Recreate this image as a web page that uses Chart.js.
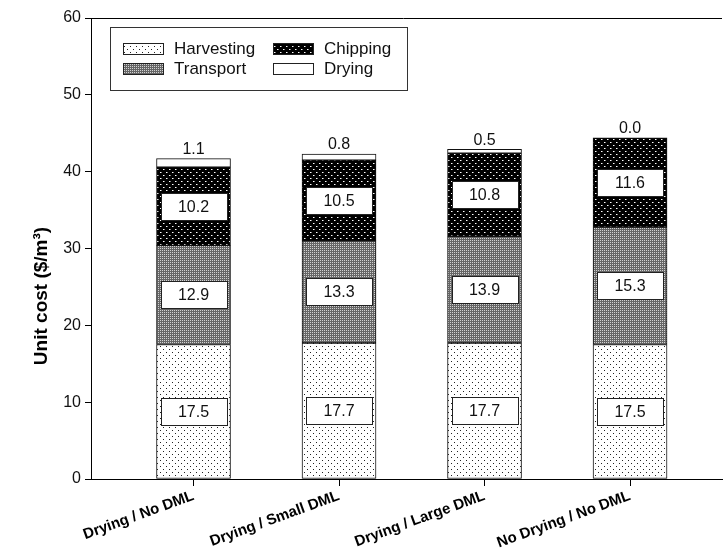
<!DOCTYPE html>
<html>
<head>
<meta charset="utf-8">
<script src="https://cdn.jsdelivr.net/npm/chart.js@4.4.0/dist/chart.umd.min.js"></script>
<style>
  html, body { margin: 0; padding: 0; background: #fff; }
</style>
</head>
<body>
<canvas id="costChart" width="723" height="550"></canvas>
<script>
// Scenarios on the x axis
const scenarios = ['Drying / No DML', 'Drying / Small DML', 'Drying / Large DML', 'No Drying / No DML'];

// Unit cost components ($/m3), stacked bottom to top
const harvesting = [17.5, 17.7, 17.7, 17.5];
const transport = [12.9, 13.3, 13.9, 15.3];
const chipping = [10.2, 10.5, 10.8, 11.6];
const drying = [1.1, 0.8, 0.5, 0.0];

const yMin = 0;
const yMax = 60;
const yStep = 10;

const FONT = '"Liberation Sans", Arial, sans-serif';

// Small tiled fills that mimic the print hatching
function makePattern(size, bg, dots) {
    const c = document.createElement('canvas');
    c.width = size;
    c.height = size;
    const g = c.getContext('2d');
    g.fillStyle = bg;
    g.fillRect(0, 0, size, size);
    dots.forEach(([x, y, w, col]) => {
        g.fillStyle = col;
        g.fillRect(x, y, w, w);
    });
    return g.createPattern(c, 'repeat');
}

const harvestFill = makePattern(6, '#ffffff', [[1, 1, 1, '#222'], [4, 4, 1, '#222']]);
const transportFill = makePattern(2, '#666666', [[0, 0, 1, '#d2d2d2']]);
const chippingFill = makePattern(6, '#000000', [
    [1, 1, 1, '#ffffff'], [2, 1, 1, '#808080'],
    [4, 4, 1, '#ffffff'], [5, 4, 1, '#808080']
]);
const dryingFill = '#ffffff';

function toPoints(values) {
    return values.map((v, i) => ({ x: i, y: v }));
}

// Boxed value labels inside segments, plain label above the drying cap
const segmentLabels = {
    id: 'segmentLabels',
    afterDatasetsDraw(chart) {
        const g = chart.ctx;
        g.save();
        g.font = '16px ' + FONT;
        g.textAlign = 'center';
        chart.data.datasets.forEach((ds, di) => {
            const meta = chart.getDatasetMeta(di);
            meta.data.forEach((bar, i) => {
                const text = ds.data[i].y.toFixed(1);
                if (di < 3) {
                    const cy = (bar.y + bar.base) / 2;
                    const w = Math.round(bar.width - 8);
                    const h = 27;
                    const left = Math.round(bar.x - w / 2) + 0.5;
                    const top = Math.round(cy - h / 2) + 0.5;
                    g.fillStyle = '#fff';
                    g.fillRect(left, top, w, h);
                    g.strokeStyle = '#222';
                    g.lineWidth = 1;
                    g.strokeRect(left, top, w, h);
                    g.fillStyle = '#111';
                    g.textBaseline = 'middle';
                    g.fillText(text, bar.x, cy + 1);
                } else {
                    g.fillStyle = '#111';
                    g.textBaseline = 'bottom';
                    g.fillText(text, bar.x, bar.y - 1);
                }
            });
        });
        g.restore();
    }
};

// Frame top line, y axis title and the boxed 2x2 legend
const decorations = {
    id: 'decorations',
    afterDraw(chart) {
        const g = chart.ctx;
        const area = chart.chartArea;
        g.save();

        g.strokeStyle = '#000';
        g.lineWidth = 1;
        g.beginPath();
        g.moveTo(area.left - 6, Math.round(area.top) + 0.5);
        g.lineTo(area.right, Math.round(area.top) + 0.5);
        g.stroke();

        g.save();
        g.translate(42, 296);
        g.rotate(-Math.PI / 2);
        g.font = 'bold 19px ' + FONT;
        g.fillStyle = '#000';
        g.textAlign = 'center';
        g.textBaseline = 'middle';
        g.fillText('Unit cost ($/m\u00B3)', 0, 0);
        g.restore();

        // legend
        g.fillStyle = '#fff';
        g.fillRect(110.5, 27.5, 297, 63);
        g.strokeStyle = '#333';
        g.strokeRect(110.5, 27.5, 297, 63);

        const order = [0, 2, 1, 3];
        g.font = '17px ' + FONT;
        g.textAlign = 'left';
        g.textBaseline = 'middle';
        order.forEach((di, k) => {
            const ds = chart.data.datasets[di];
            const col = k % 2;
            const row = Math.floor(k / 2);
            const sx = 123 + col * 150;
            const sy = 43 + row * 20;
            g.fillStyle = ds.backgroundColor;
            g.fillRect(sx, sy, 41, 11);
            g.strokeStyle = '#222';
            g.strokeRect(sx + 0.5, sy + 0.5, 40, 11);
            g.fillStyle = '#111';
            g.fillText(ds.label, sx + 51, sy + 6);
        });

        g.restore();
    }
};

const ctx = document.getElementById('costChart');
const chart = new Chart(ctx, {
    type: 'bar',
    data: {
        datasets: [
            { label: 'Harvesting', data: toPoints(harvesting), backgroundColor: harvestFill },
            { label: 'Transport', data: toPoints(transport), backgroundColor: transportFill },
            { label: 'Chipping', data: toPoints(chipping), backgroundColor: chippingFill },
            { label: 'Drying', data: toPoints(drying), backgroundColor: dryingFill }
        ]
    },
    options: {
        responsive: false,
        animation: false,
        devicePixelRatio: 1,
        layout: { padding: { top: 18, right: 1, left: 0, bottom: 0 } },
        datasets: {
            bar: {
                barThickness: 74,
                borderColor: '#111',
                borderWidth: 1,
                borderSkipped: false
            }
        },
        plugins: {
            legend: { display: false },
            tooltip: { enabled: false }
        },
        scales: {
            x: {
                type: 'linear',
                stacked: true,
                offset: false,
                min: -0.7045,
                max: 3.632,
                afterBuildTicks: scale => {
                    scale.ticks = scenarios.map((_, i) => ({ value: i }));
                },
                afterFit: scale => {
                    scale.height = 71;
                },
                ticks: {
                    autoSkip: false,
                    minRotation: 20,
                    maxRotation: 20,
                    padding: 1,
                    color: '#000',
                    font: { family: FONT, size: 15, weight: 'bold' },
                    callback: value => scenarios[value]
                },
                grid: { offset: false, drawOnChartArea: false, drawTicks: true, tickLength: 7, color: '#000' },
                border: { color: '#000', width: 1 }
            },
            y: {
                stacked: true,
                min: yMin,
                max: yMax,
                afterFit: scale => {
                    scale.width = 91;
                },
                ticks: {
                    stepSize: yStep,
                    padding: 4,
                    color: '#111',
                    font: { family: FONT, size: 16 }
                },
                grid: { drawOnChartArea: false, drawTicks: true, tickLength: 6, color: '#000' },
                border: { color: '#000', width: 1 }
            }
        }
    },
    plugins: [segmentLabels, decorations]
});
</script>
</body>
</html>
